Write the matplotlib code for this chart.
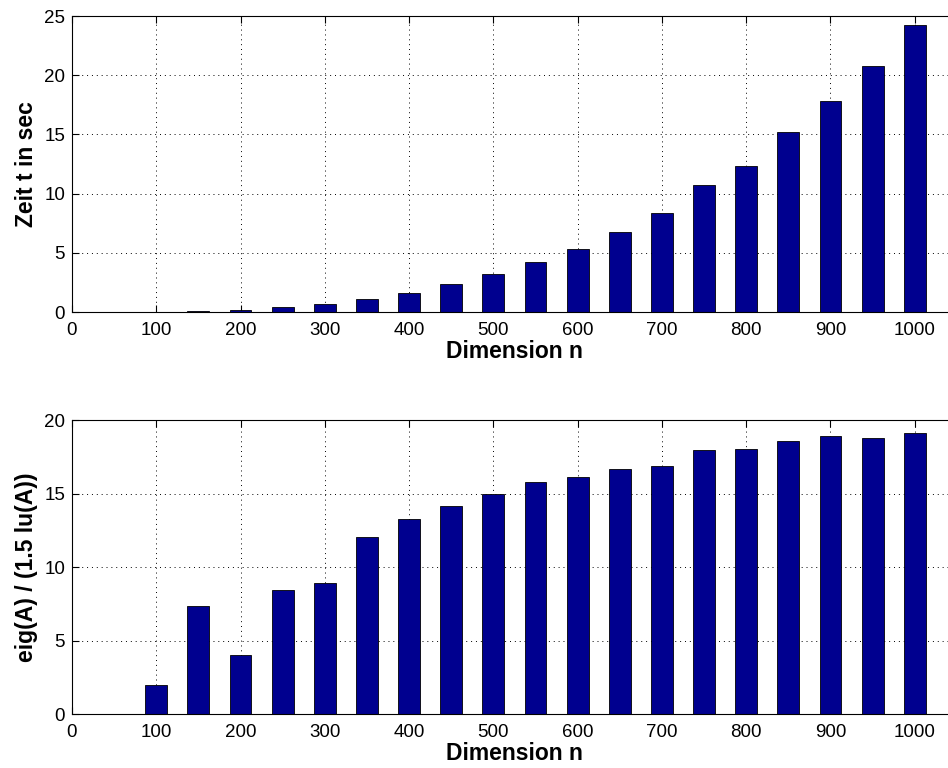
# Laufzeit und Verhältnis eig/lu über der Dimension n
import numpy as np
import matplotlib.pyplot as plt

plt.rcParams['font.family'] = ['Liberation Sans', 'DejaVu Sans']

# Daten
n = [50, 100, 150, 200, 250, 300, 350, 400, 450, 500,
     550, 600, 650, 700, 750, 800, 850, 900, 950, 1000]
zeit = [0.01, 0.04, 0.1, 0.2, 0.4, 0.7, 1.1, 1.6, 2.36, 3.2,
        4.24, 5.3, 6.73, 8.37, 10.75, 12.37, 15.21, 17.79, 20.75, 24.25]
ratio = [0.0, 1.97, 7.33, 4.0, 8.43, 8.93, 12.04, 13.27, 14.14, 14.96,
         15.75, 16.09, 16.68, 16.88, 17.95, 18.02, 18.58, 18.94, 18.75, 19.1]

xticks = [0, 100, 200, 300, 400, 500, 600, 700, 800, 900, 1000]

fig = plt.figure(figsize=(9.48, 7.68), dpi=100)
ax1 = fig.add_axes([0.0759, 0.5937, 0.9335, 0.3854])
ax2 = fig.add_axes([0.0759, 0.0703, 0.9335, 0.3828])

farbe = '#00008F'


def style(ax, ylim, yticks, ylabel):
    ax.set_xlim(0, 1050)
    ax.set_ylim(*ylim)
    ax.set_xticks(xticks)
    ax.set_yticks(yticks)
    ax.tick_params(direction='in', top=True, right=True, labelsize=13.5, length=5)
    ax.tick_params(axis='x', pad=7)
    ax.tick_params(axis='y', pad=5)
    ax.grid(True, linestyle=(0, (1, 4)), color='black', linewidth=0.7)
    ax.set_axisbelow(True)
    ax.set_xlabel('Dimension n', fontsize=16.5, fontweight='bold', labelpad=1)
    ax.set_ylabel(ylabel, fontsize=16.5, fontweight='bold', labelpad=4)
    for s in ax.spines.values():
        s.set_linewidth(0.8)


ax1.bar(n, zeit, width=26, color=farbe, edgecolor='black', linewidth=0.6)
style(ax1, (0, 25), [0, 5, 10, 15, 20, 25], 'Zeit t in sec')

ax2.bar(n, ratio, width=26, color=farbe, edgecolor='black', linewidth=0.6)
style(ax2, (0, 20), [0, 5, 10, 15, 20], 'eig(A) / (1.5 lu(A))')

fig.savefig('out.png', dpi=100)
